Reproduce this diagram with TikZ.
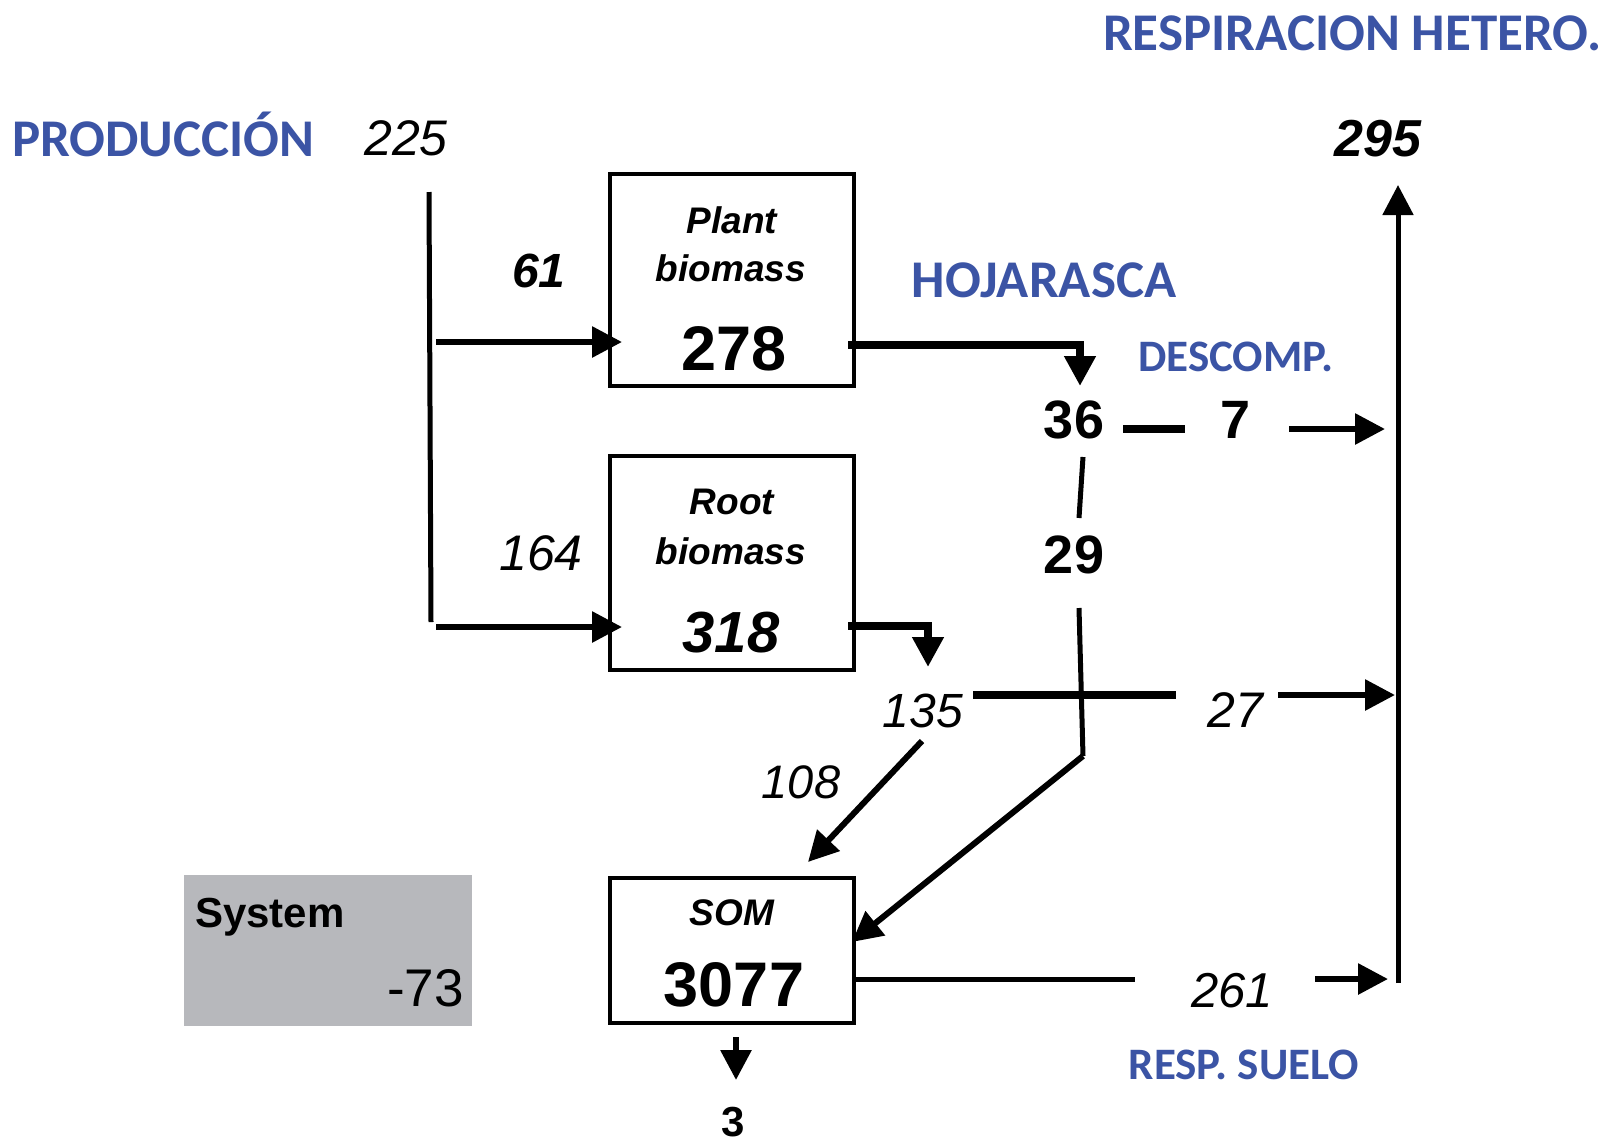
\documentclass[tikz,border=0pt]{standalone}
\usepackage{fontspec}
\setmainfont{Liberation Sans}
\newfontfamily\blufont{Carlito}
\usetikzlibrary{arrows.meta}
\definecolor{blu}{RGB}{59,84,165}
\definecolor{sysgray}{RGB}{183,184,188}
\newcommand\fsz[1]{\fontsize{#1}{#1}\selectfont}
\begin{document}
\begin{tikzpicture}[x=1pt,y=-1pt,
  box/.style={draw, line width=4pt, inner sep=0pt},
  bl/.style={text=blu, inner sep=0pt, anchor=base},
  lbl/.style={inner sep=0pt, anchor=base},
  tip/.style={-{Triangle[length=30pt,width=30pt]}},
  thinln/.style={line width=5pt},
  medln/.style={line width=6pt},
  thkln/.style={line width=8pt, line join=miter}]
\useasboundingbox (0,0) rectangle (1610,1144);

% boxes
\node[box, minimum width=244pt, minimum height=212pt] (plant) at (732,280) {};
\node[box, minimum width=244pt, minimum height=214pt] (root) at (732,563) {};
\node[box, minimum width=244pt, minimum height=145pt] (som) at (732,950.5) {};
\node[fill=sysgray, minimum width=288pt, minimum height=151pt, inner sep=0pt] (sys) at (328,950.5) {};

% box texts
\node[lbl, font=\fsz{37}\bfseries\itshape] (tplant) at (732,233) {Plant};
\node[lbl, font=\fsz{37}\bfseries\itshape] (tbio1) at (731,281) {biomass};
\node[lbl, font=\fsz{63}\bfseries] (t278) at (734,370) {278};
\node[lbl, font=\fsz{37}\bfseries\itshape] (troot) at (732,514) {Root};
\node[lbl, font=\fsz{37}\bfseries\itshape] (tbio2) at (731,564) {biomass};
\node[lbl, font=\fsz{58}\bfseries\itshape] (t318) at (731,652) {318};
\node[lbl, font=\fsz{37}\bfseries\itshape] (tsom) at (732,925) {SOM};
\node[lbl, font=\fsz{63}\bfseries] (t3077) at (734,1006) {3077};
\node[lbl, anchor=base west, font=\fsz{42}\bfseries] (tsys) at (195,927) {System};
\node[lbl, anchor=base east, font=\fsz{53}] (t73) at (464,1006) {-73};

% blue labels
\node[bl, anchor=base west, font=\blufont\bfseries\fsz{53}] (prod) at (12,156) {PRODUCCIÓN};
\node[bl, anchor=base east, font=\blufont\bfseries\fsz{53}] (resp) at (1602,50) {RESPIRACION HETERO.};
\node[bl, font=\blufont\bfseries\fsz{53}] (hoja) at (1044,297) {HOJARASCA};
\node[bl, font=\blufont\bfseries\fsz{45}] (desc) at (1236,371) {DESCOMP.};
\node[bl, font=\blufont\bfseries\fsz{45}] (suelo) at (1244,1079) {RESP. SUELO};

% numbers
\node[lbl, font=\fsz{50}\itshape] (n225) at (406,155) {225};
\node[lbl, font=\fsz{52}\bfseries\itshape] (n295) at (1378,156) {295};
\node[lbl, font=\fsz{48}\bfseries\itshape] (n61) at (539,287) {61};
\node[lbl, font=\fsz{50}\itshape] (n164) at (541,570) {164};
\node[lbl, font=\fsz{54}\bfseries] (n36) at (1074,438) {36};
\node[lbl, font=\fsz{54}\bfseries] (n7) at (1236,438) {7};
\node[lbl, font=\fsz{54}\bfseries] (n29) at (1074,573) {29};
\node[lbl, font=\fsz{48}\itshape] (n135) at (923,727) {135};
\node[lbl, font=\fsz{50}\itshape] (n27) at (1235,727) {27};
\node[lbl, font=\fsz{47}\itshape] (n108) at (801,798) {108};
\node[lbl, font=\fsz{49}\itshape] (n261) at (1232,1007) {261};
\node[lbl, font=\fsz{42}\bfseries] (n3) at (733,1136) {3};

% connector coordinates
\coordinate (a1) at (429,192);
\coordinate (a2) at (431,622);
\coordinate (b1) at (436,342);
\coordinate (b2) at (622,342);
\coordinate (c1) at (436,627);
\coordinate (c2) at (622,627);
\coordinate (d1) at (848,345);
\coordinate (d2) at (1080,386);
\coordinate (e1) at (848,626);
\coordinate (e2) at (928,667);
\coordinate (f1) at (1123,429);
\coordinate (f2) at (1185,429);
\coordinate (g1) at (1289,429);
\coordinate (g2) at (1385,429);
\coordinate (h1) at (1083,457);
\coordinate (h2) at (1079,518);
\coordinate (i1) at (1079,608);
\coordinate (i2) at (1083,756);
\coordinate (j2) at (852,942);
\coordinate (k1) at (973,695);
\coordinate (k2) at (1176,695);
\coordinate (l1) at (1278,695);
\coordinate (l2) at (1395,695);
\coordinate (m1) at (922,741);
\coordinate (m2) at (808,862);
\coordinate (o1) at (854,979);
\coordinate (o2) at (1135,979);
\coordinate (p1) at (1315,979);
\coordinate (p2) at (1388,979);
\coordinate (q1) at (1398,983);
\coordinate (q2) at (1398,185);
\coordinate (r1) at (736,1037);
\coordinate (r2) at (736,1080);

% connectors
\draw[thinln] (a1) -- (a2);
\draw[medln, tip] (b1) -- (b2);
\draw[medln, tip] (c1) -- (c2);
\draw[thkln, tip] (d1) -| (d2);
\draw[thkln, tip] (e1) -| (e2);
\draw[thkln] (f1) -- (f2);
\draw[medln, tip] (g1) -- (g2);
\draw[thinln] (h1) -- (h2);
\draw[thinln] (i1) -- (i2);
\draw[medln, tip] (i2) -- (j2);
\draw[thkln] (k1) -- (k2);
\draw[medln, tip] (l1) -- (l2);
\draw[medln, tip] (m1) -- (m2);
\draw[thinln] (o1) -- (o2);
\draw[medln, tip] (p1) -- (p2);
\draw[thinln, tip] (q1) -- (q2);
\draw[medln, tip] (r1) -- (r2);
\end{tikzpicture}
\end{document}
